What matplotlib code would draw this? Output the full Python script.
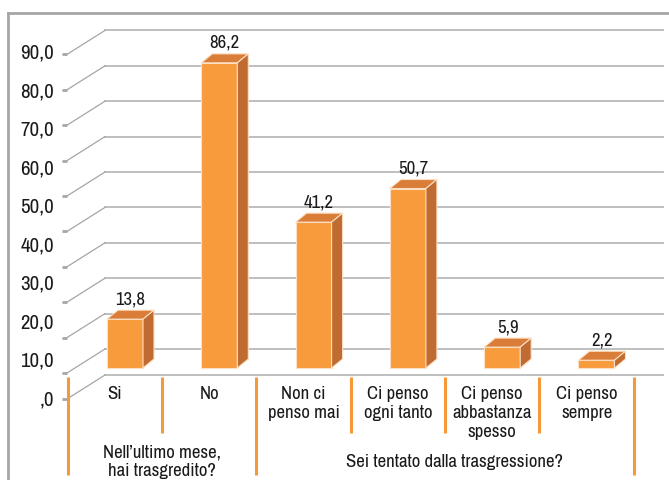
import matplotlib
matplotlib.use("Agg")
import matplotlib.pyplot as plt
from matplotlib.patches import Polygon
from matplotlib.lines import Line2D

plt.rcParams["font.family"] = ["Liberation Sans Narrow", "Archivo Narrow",
                               "Roboto Condensed", "Liberation Sans", "DejaVu Sans"]

# Data
categories = [
    "Si",
    "No",
    "Non ci\npenso mai",
    "Ci penso\nogni tanto",
    "Ci penso\nabbastanza\nspesso",
    "Ci penso\nsempre",
]
values = [13.8, 86.2, 41.2, 50.7, 5.9, 2.2]
value_labels = ["13,8", "86,2", "41,2", "50,7", "5,9", "2,2"]
groups = ["Nell\u2019ultimo mese,\nhai trasgredito?", "Sei tentato dalla trasgressione?"]
group_sizes = [2, 4]
yticks = [0, 10, 20, 30, 40, 50, 60, 70, 80, 90]
ytick_labels = [",0", "10,0", "20,0", "30,0", "40,0", "50,0", "60,0", "70,0", "80,0", "90,0"]

# Layout (pixels of a 669x480 canvas)
W, H = 669, 480
PX_CAT = 94.3      # pixels per category slot
PX_VAL = 3.54      # pixels per value unit
X0 = 115           # pixel x of first category centre (floor front)
V0 = 368           # pixel y of value zero on bar front plane

BAR_FRONT = "#F79B3D"
BAR_TOP = "#D97D38"
BAR_SIDE = "#BF6B31"
EDGE = "#FCE0C4"
GRID = "#BFBFBF"
DIAG = "#A6A6A6"
SEP = "#F59A3A"
TEXT = "#1A1A1A"

fig = plt.figure(figsize=(W / 100, H / 100), dpi=100)
ax = fig.add_axes([0, 0, 1, 1])
ax.set_xlim(-X0 / PX_CAT, (W - X0) / PX_CAT)
ax.set_ylim((V0 - H) / PX_VAL, V0 / PX_VAL)
ax.axis("off")

# projection offsets in data units
bar_shift = 10 / PX_CAT
bar_w = 36 / PX_CAT
bar_dx, bar_dv = 11 / PX_CAT, 9 / PX_VAL
wall_dv = 19 / PX_VAL
wall_left = (105 - X0) / PX_CAT
wall_right = (663 - X0) / PX_CAT
diag_dx, diag_dv = 38 / PX_CAT, 24 / PX_VAL
tick_len = 5 / PX_CAT
floor_v = (V0 - 375) / PX_VAL

# back wall gridlines with the side-wall diagonals and tick marks
for yb in [floor_v] + [v + wall_dv for v in yticks]:
    ax.plot([wall_left, wall_right], [yb, yb], color=GRID, lw=1.4, zorder=1)
    ax.plot([wall_left - diag_dx, wall_left], [yb - diag_dv, yb],
            color=DIAG, lw=0.9, zorder=1)
    ax.plot([wall_left - diag_dx - tick_len, wall_left - diag_dx],
            [yb - diag_dv, yb - diag_dv], color=DIAG, lw=2, zorder=1,
            solid_capstyle="butt")

# bars: front face, top face, side face
x_front = [i + bar_shift for i in range(len(values))]
ax.bar(x_front, values, width=bar_w, color=BAR_FRONT, edgecolor=EDGE,
       linewidth=0.8, zorder=3)
for xc, v, lab in zip(x_front, values, value_labels):
    xl, xr = xc - bar_w / 2, xc + bar_w / 2
    top = [(xl, v), (xr, v), (xr + bar_dx, v + bar_dv), (xl + bar_dx, v + bar_dv)]
    side = [(xr, 0), (xr + bar_dx, bar_dv), (xr + bar_dx, v + bar_dv), (xr, v)]
    ax.add_patch(Polygon(top, closed=True, facecolor=BAR_TOP, edgecolor=EDGE,
                         linewidth=0.8, zorder=3))
    ax.add_patch(Polygon(side, closed=True, facecolor=BAR_SIDE, edgecolor=EDGE,
                         linewidth=0.8, zorder=3))
    ax.text(xc + bar_dx / 2, v + bar_dv + 3.1, lab, ha="center", va="center",
            fontsize=13.5, color=TEXT, zorder=4)

# category labels
for i, cat in enumerate(categories):
    ax.text(i, -5.2, cat, ha="center", va="top", fontsize=13.5, color=TEXT,
            linespacing=1.2)

# separators between categories (longer ones at group boundaries)
bounds = [0]
for g in group_sizes:
    bounds.append(bounds[-1] + g)
sep_top = (V0 - 377) / PX_VAL
for k in range(len(categories) + 1):
    bottom = -30.2 if k in bounds else -18.4
    ax.plot([k - 0.5, k - 0.5], [sep_top, bottom], color=SEP, lw=2.2, zorder=2,
            solid_capstyle="butt")

# group labels
group_x = [0.5, 3.6]
for gx, g in zip(group_x, groups):
    ax.text(gx, -26.6, g, ha="center", va="center", fontsize=13.5, color=TEXT,
            linespacing=1.2)

# value axis labels (Excel places them on their own spacing)
ax2 = fig.add_axes([0, 0, 1, 1], frameon=False)
ax2.set_xlim(ax.get_xlim())
ax2.set_ylim(-(H - 400) / 3.856, 400 / 3.856)
ax2.axis("off")
for v, lab in zip(yticks, ytick_labels):
    ax2.text((54 - X0) / PX_CAT, v, lab, ha="right", va="center",
             fontsize=15, color=TEXT)

# chart frame (top and left edges visible)
fig.add_artist(Line2D([8 / W, 1], [1 - 13 / H, 1 - 13 / H],
                      transform=fig.transFigure, color="#A6A6A6", lw=2))
fig.add_artist(Line2D([8 / W, 8 / W], [0, 1 - 13 / H],
                      transform=fig.transFigure, color="#A6A6A6", lw=2))

fig.savefig("out.png", dpi=100)
